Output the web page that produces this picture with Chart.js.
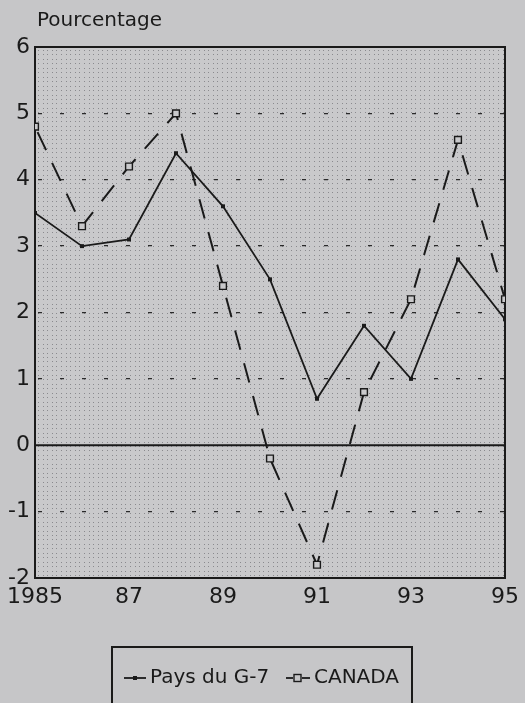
<!DOCTYPE html>
<html>
<head>
<meta charset="utf-8">
<script src="https://cdn.jsdelivr.net/npm/chart.js@4"></script>
<style>
  html, body { margin:0; padding:0; background:#c6c6c8; }
  #wrap { position:relative; width:525px; height:703px; overflow:hidden; font-family:"DejaVu Sans", sans-serif; color:#1a1a1a; }
  #c { position:absolute; left:0; top:0; }
  #title { position:absolute; left:37px; top:7px; font-size:20px; }
  #legend { position:absolute; left:111px; top:646px; width:302px; height:90px; border:2px solid #1a1a1a; box-sizing:border-box; }
  .item { position:absolute; top:16px; font-size:20px; white-space:nowrap; }
  .item svg { position:absolute; }
</style>
</head>
<body>
<div id="wrap">
  <canvas id="c" width="525" height="703"></canvas>
  <div id="title">Pourcentage</div>
  <div id="legend">
    <div class="item" style="left:10px;">
      <svg width="24" height="10" style="left:0; top:9px;"><line x1="1" y1="5" x2="23" y2="5" stroke="#1a1a1a" stroke-width="1.8"/><rect x="10" y="3" width="4" height="4" fill="#1a1a1a"/></svg>
      <span style="position:absolute; left:27px; top:0;">Pays du G-7</span>
    </div>
    <div class="item" style="left:172px;">
      <svg width="26" height="12" style="left:0; top:8px;"><line x1="1" y1="6" x2="8" y2="6" stroke="#1a1a1a" stroke-width="1.8"/><line x1="17" y1="6" x2="25" y2="6" stroke="#1a1a1a" stroke-width="1.8"/><rect x="9" y="2.5" width="7" height="7" fill="#c6c6c8" stroke="#1a1a1a" stroke-width="1.4"/></svg>
      <span style="position:absolute; left:29px; top:0;">CANADA</span>
    </div>
  </div>
</div>
<script>
const years = [1985,1986,1987,1988,1989,1990,1991,1992,1993,1994,1995];
const g7 = [3.5,3.0,3.1,4.4,3.6,2.5,0.7,1.8,1.0,2.8,1.9];
const canada = [4.8,3.3,4.2,5.0,2.4,-0.2,-1.8,0.8,2.2,4.6,2.2];
const xTicks = [1985,1987,1989,1991,1993,1995];
const xTickLabels = ['1985','87','89','91','93','95'];
const yTicks = [-2,-1,0,1,2,3,4,5,6];

const ink = '#1a1a1a';

const bgPlugin = {
  id:'bg',
  beforeDraw(chart){
    const {ctx, chartArea:a} = chart;
    ctx.save();
    ctx.fillStyle = '#c9c9cb';
    ctx.fillRect(a.left, a.top, a.right-a.left, a.bottom-a.top);
    ctx.fillStyle = '#8a8a8e';
    for (let y = a.top + 3; y < a.bottom; y += 4.45) {
      for (let x = a.left + 3; x < a.right; x += 4.6) {
        ctx.fillRect(Math.round(x), Math.round(y), 1, 1);
      }
    }
    ctx.restore();
  },
  beforeDatasetsDraw(chart){
    const {ctx, chartArea:a, scales} = chart;
    ctx.save();
    ctx.strokeStyle = ink;
    ctx.lineWidth = 2.2;
    const y0 = scales.y.getPixelForValue(0);
    ctx.beginPath(); ctx.moveTo(a.left, y0); ctx.lineTo(a.right, y0); ctx.stroke();
    ctx.lineWidth = 2;
    ctx.strokeRect(a.left, a.top, a.right-a.left, a.bottom-a.top);
    ctx.restore();
  }
};

new Chart(document.getElementById('c'), {
  type:'line',
  data:{
    datasets:[
      { label:'Pays du G-7', data: years.map((x,i)=>({x, y:g7[i]})),
        borderColor:ink, borderWidth:1.8, pointStyle:'rect', pointRadius:2.8,
        pointBackgroundColor:ink, pointBorderColor:ink, pointBorderWidth:0, tension:0 },
      { label:'CANADA', data: years.map((x,i)=>({x, y:canada[i]})),
        borderColor:ink, borderWidth:2, borderDash:[20,14], borderDashOffset:-6, pointStyle:'rect', pointRadius:4.8,
        pointBackgroundColor:'#c9c9cb', pointBorderColor:ink, pointBorderWidth:1.4, tension:0 }
    ]
  },
  options:{
    responsive:false, animation:false, devicePixelRatio:1,
    layout:{ padding:{ top:47, bottom:85, left:0, right:16 } },
    plugins:{ legend:{display:false}, tooltip:{enabled:false}, title:{display:false} },
    scales:{
      x:{
        type:'linear', min:1985, max:1995,
        afterBuildTicks(s){ s.ticks = xTicks.map(v=>({value:v})); },
        afterFit(s){ s.height = 40; },
        ticks:{ padding:6, color:ink, font:{family:'"DejaVu Sans"', size:22},
          callback:(v)=>{ const i = xTicks.indexOf(v); return i>=0 ? xTickLabels[i] : ''; },
          maxRotation:0, autoSkip:false },
        grid:{ display:false, drawTicks:false },
        border:{ display:false }
      },
      y:{
        type:'linear', min:-2, max:6,
        afterBuildTicks(s){ s.ticks = yTicks.map(v=>({value:v})); },
        afterFit(s){ s.width = 35; },
        ticks:{ padding:5, color:ink, font:{family:'"DejaVu Sans"', size:22} },
        grid:{ drawTicks:false, lineWidth:1.3,
          color:(c)=>{ const v = c.tick && c.tick.value; return (v===0||v===-2||v===6) ? 'rgba(0,0,0,0)' : '#2a2a2a'; } },
        border:{ display:false, dash:[4,18], dashOffset:-3 }
      }
    }
  },
  plugins:[bgPlugin]
});
</script>
</body>
</html>
